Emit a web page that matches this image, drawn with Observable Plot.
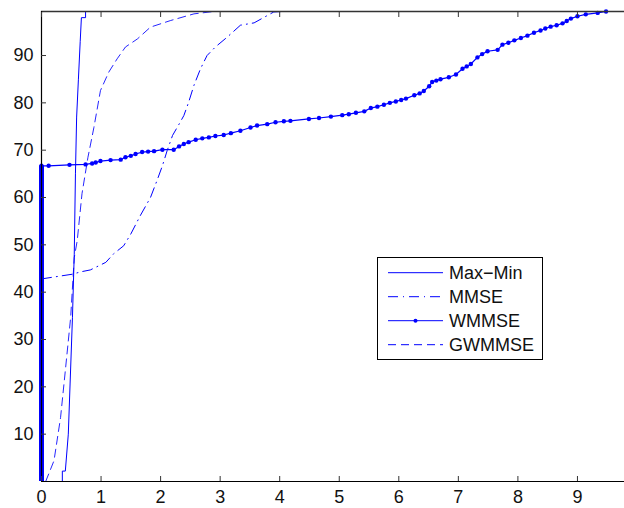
<!DOCTYPE html>
<html>
<head>
<meta charset="utf-8">
<script src="https://cdn.jsdelivr.net/npm/d3@7"></script>
<script src="https://cdn.jsdelivr.net/npm/@observablehq/plot@0.6"></script>
<style>
  body { margin: 0; background: #fff; }
  #wrap { position: relative; width: 624px; height: 508px; }
  #legend { position: absolute; left: 377px; top: 257px; }
  svg text { font-family: "Liberation Sans", Arial, sans-serif; }
</style>
</head>
<body>
<div id="wrap"></div>
<script>
const xTicks = [0, 1, 2, 3, 4, 5, 6, 7, 8, 9];
const yTicks = [10, 20, 30, 40, 50, 60, 70, 80, 90];
const xMax = 9.79;
const yMax = 99.3;

const seriesNames = ["Max\u2212Min", "MMSE", "WMMSE", "GWMMSE"];

// Max-Min (solid)
const maxMinX = [0, 0.35, 0.35, 0.40, 0.45, 0.48, 0.52, 0.54, 0.55, 0.57, 0.59, 0.62, 0.65, 0.67, 0.74, 0.74];
const maxMinY = [0, 0, 2.2, 2.2, 10, 20.6, 34.7, 43.8, 48, 65, 77, 85, 93, 98, 98, 99.3];

// MMSE (dash-dot)
const mmseX = [0, 0.52, 0.66, 0.82, 1.08, 1.21, 1.38, 1.50, 1.66, 1.83, 1.94, 2.03, 2.11, 2.20, 2.31, 2.39, 2.47, 2.56, 2.67, 2.78, 2.92, 3.12, 3.34, 3.57, 3.90, 4.05];
const mmseY = [42.8, 43.8, 44.3, 44.7, 46.3, 48.1, 49.8, 52.3, 56.2, 60.0, 63.6, 66.7, 69.9, 73.1, 75.5, 77.3, 80.1, 83.7, 87.2, 90.0, 91.8, 93.9, 96.4, 96.9, 99.2, 99.3];

// WMMSE (solid with dots); bar at x = 0 from 0 to first value
const wmmseBarTop = 66.7;
const wmmseX = [0, 0.12, 0.47, 0.74, 0.85, 0.91, 0.99, 1.16, 1.33, 1.41, 1.50, 1.58, 1.69, 1.79, 1.89, 2.03, 2.22, 2.31, 2.39, 2.47, 2.59, 2.70, 2.81, 2.92, 3.06, 3.18, 3.34, 3.51, 3.62, 3.79, 3.93, 4.07, 4.18, 4.49, 4.66, 4.86, 5.05, 5.16, 5.28, 5.42, 5.53, 5.64, 5.75, 5.85, 5.95, 6.04, 6.12, 6.26, 6.35, 6.42, 6.51, 6.56, 6.63, 6.70, 6.84, 6.96, 7.07, 7.14, 7.21, 7.32, 7.40, 7.49, 7.66, 7.74, 7.84, 7.94, 8.05, 8.16, 8.27, 8.38, 8.46, 8.55, 8.65, 8.75, 8.82, 8.89, 9.0, 9.14, 9.34, 9.48];
const wmmseY = [66.7, 66.7, 66.9, 67.0, 67.2, 67.4, 67.7, 67.9, 68.0, 68.5, 68.8, 69.2, 69.6, 69.7, 69.8, 70.1, 70.1, 70.8, 71.3, 71.7, 72.2, 72.5, 72.7, 73.0, 73.2, 73.6, 74.1, 74.8, 75.2, 75.5, 75.9, 76.1, 76.2, 76.6, 76.8, 77.1, 77.4, 77.6, 77.9, 78.2, 78.9, 79.2, 79.6, 80.0, 80.3, 80.6, 80.9, 81.6, 82.0, 82.5, 83.5, 84.4, 84.7, 85.0, 85.4, 86.0, 87.2, 87.7, 88.2, 89.6, 90.3, 90.9, 91.2, 92.3, 92.7, 93.2, 93.7, 94.2, 94.8, 95.3, 95.7, 96.1, 96.4, 96.8, 97.3, 97.8, 98.3, 98.7, 99.0, 99.3];

// GWMMSE (dashed)
const gwX = [0.07, 0.21, 0.32, 0.40, 0.49, 0.55, 0.60, 0.68, 0.78, 0.88, 0.99, 1.13, 1.27, 1.41, 1.61, 1.83, 2.17, 2.56, 2.89];
const gwY = [0, 4.4, 13.5, 23.4, 34.7, 47.3, 50.9, 60.8, 68.5, 74.8, 82.6, 86.5, 89.3, 91.8, 93.5, 96.0, 97.4, 98.8, 99.3];

const zip = (xs, ys) => xs.map((x, i) => ({x, y: ys[i]}));
const maxMin = zip(maxMinX, maxMinY);
const mmse = zip(mmseX, mmseY);
const wmmse = zip(wmmseX, wmmseY);
const gw = zip(gwX, gwY);

const blue = "#0000ff";
const dashStyles = [null, "10,5,1,5", null, "8,5"];

const chart = Plot.plot({
  width: 624,
  height: 508,
  marginLeft: 41,
  marginRight: 0,
  marginTop: 11,
  marginBottom: 27,
  style: {fontFamily: "'Liberation Sans', Arial, sans-serif", fontSize: "18px", background: "#fff", overflow: "visible"},
  x: {domain: [0, xMax]},
  y: {domain: [0, yMax]},
  marks: [
    Plot.line(maxMin, {x: "x", y: "y", stroke: blue, strokeWidth: 1}),
    Plot.line(mmse, {x: "x", y: "y", stroke: blue, strokeWidth: 1, strokeDasharray: dashStyles[1]}),
    Plot.line(gw, {x: "x", y: "y", stroke: blue, strokeWidth: 1, strokeDasharray: dashStyles[3], strokeOpacity: 0.85}),
    Plot.ruleX([{x: 0, y1: 0, y2: wmmseBarTop}], {x: "x", y1: "y1", y2: "y2", stroke: blue, strokeWidth: 5}),
    Plot.line(wmmse, {x: "x", y: "y", stroke: blue, strokeWidth: 1.2}),
    Plot.dot(wmmse, {x: "x", y: "y", r: 2.2, fill: blue, stroke: "none"}),
    Plot.ruleY([yMax], {stroke: "#333", strokeWidth: 1.5}),
    Plot.ruleX([0], {stroke: "#000", strokeWidth: 1.2}),
    Plot.ruleY([0], {stroke: "#000", strokeWidth: 1.2}),
    Plot.axisX(xTicks, {anchor: "bottom", tickSize: -5, tickPadding: 14, stroke: "#333", fill: "#111", label: null}),
    Plot.axisX(xTicks, {anchor: "top", tickSize: -5, tickFormat: () => "", stroke: "#333", label: null}),
    Plot.axisY(yTicks, {anchor: "left", tickSize: -5, tickPadding: 13, stroke: "#333", fill: "#111", label: null})
  ]
});
document.getElementById("wrap").appendChild(chart);

// Legend inside the plot area
const lg = d3.select("#wrap").append("svg")
  .attr("id", "legend")
  .attr("width", 167).attr("height", 104);
lg.append("rect").attr("x", 0.5).attr("y", 0.5).attr("width", 165).attr("height", 102)
  .attr("fill", "#fff").attr("stroke", "#000").attr("stroke-width", 1);
seriesNames.forEach((name, i) => {
  const cy = 15.7 + i * 24;
  lg.append("line").attr("x1", 11).attr("x2", 66).attr("y1", cy).attr("y2", cy)
    .attr("stroke", blue).attr("stroke-width", 1)
    .attr("stroke-dasharray", dashStyles[i]);
  if (i === 2) lg.append("circle").attr("cx", 38.5).attr("cy", cy).attr("r", 2).attr("fill", blue);
  lg.append("text").attr("x", 72).attr("y", cy).attr("dy", "0.36em")
    .attr("font-size", 18).attr("fill", "#111").text(name);
});
</script>
</body>
</html>
